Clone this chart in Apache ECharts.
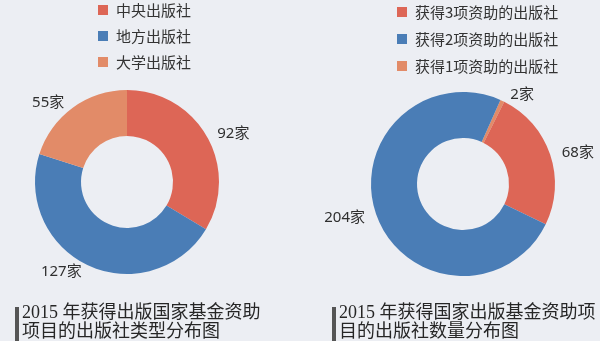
<!DOCTYPE html>
<html><head><meta charset="utf-8">
<script src="https://cdn.jsdelivr.net/npm/echarts@6/dist/echarts.min.js"></script>
<style>html,body{margin:0;padding:0;background:#eceef3;}#c{width:600px;height:341px;}</style>
</head><body><div id="c"></div>
<script>
const typeNames = ['中央出版社', '地方出版社', '大学出版社'];
const typeValues = [92, 127, 55];
const countNames = ['获得3项资助的出版社', '获得2项资助的出版社', '获得1项资助的出版社'];
const countValues = [68, 204, 2];
const captionLeft = '2015 年获得出版国家基金资助\n项目的出版社类型分布图';
const captionRight = '2015 年获得国家出版基金资助项\n目的出版社数量分布图';

const RED = '#dd6656', BLUE = '#4a7db6', ORANGE = '#e28b68';
const typeColors = [RED, BLUE, ORANGE];
const countColors = [RED, BLUE, ORANGE];

const chart = echarts.init(document.getElementById('c'));
const labelCfg = {
  show: true, position: 'outside', formatter: '{c}家', overflow: 'none',
  fontFamily: 'Noto Sans, Noto Sans CJK SC', fontSize: 15, color: '#2f2f2f'
};
const legendText = { fontFamily: 'Noto Sans CJK SC', fontSize: 15, color: '#333', lineHeight: 16, padding: [0,0,0,3] };
const capStyle = { fontFamily: 'Liberation Serif, Noto Sans CJK SC', fontSize: 18, fontWeight: 'normal', color: '#262626', lineHeight: 19 };

chart.setOption({
  backgroundColor: '#eceef3',
  animation: false,
  title: [
    { text: captionLeft, left: 22, top: 304, textStyle: capStyle, padding: 0 },
    { text: captionRight, left: 339, top: 304, textStyle: capStyle, padding: 0 }
  ],
  graphic: [
    { type: 'rect', shape: { x: 15, y: 307, width: 4, height: 34 }, style: { fill: '#555' } },
    { type: 'rect', shape: { x: 332, y: 307, width: 4, height: 34 }, style: { fill: '#555' } }
  ],
  legend: [
    { orient: 'vertical', left: 93, top: -3, itemWidth: 10, itemHeight: 10, itemGap: 10, icon: 'rect',
      data: typeNames, textStyle: legendText, selectedMode: false },
    { orient: 'vertical', left: 392, top: -1, itemWidth: 10, itemHeight: 10, itemGap: 11, icon: 'rect',
      data: countNames, textStyle: legendText, selectedMode: false }
  ],
  series: [
    {
      type: 'pie', center: [127, 182], radius: [46, 92], startAngle: 90, clockwise: true,
      avoidLabelOverlap: false,
      label: labelCfg, labelLine: { show: false, length: 6, length2: 0 },
      itemStyle: { borderWidth: 0 },
      data: typeNames.map((n, i) => ({ name: n, value: typeValues[i], itemStyle: { color: typeColors[i] } }))
    },
    {
      type: 'pie', center: [463, 184], radius: [46, 92], startAngle: 66, clockwise: true,
      avoidLabelOverlap: false,
      label: labelCfg, labelLine: { show: false, length: 7, length2: 0 },
      itemStyle: { borderWidth: 0 },
      data: [2, 0, 1].map(i => ({ name: countNames[i], value: countValues[i], itemStyle: { color: countColors[i] } }))
    }
  ]
});
</script></body></html>
